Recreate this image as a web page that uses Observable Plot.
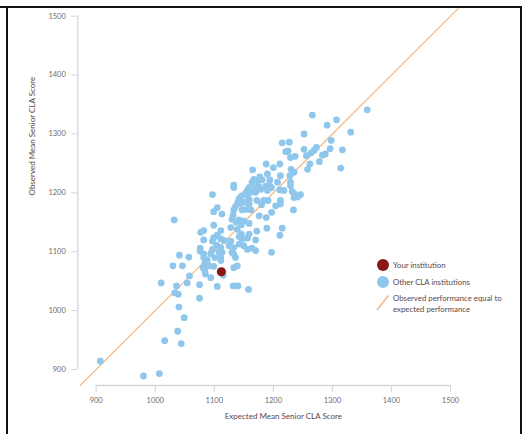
<!DOCTYPE html>
<html>
<head>
<meta charset="utf-8">
<script src="https://cdn.jsdelivr.net/npm/d3@7"></script>
<script src="https://cdn.jsdelivr.net/npm/@observablehq/plot@0.6"></script>
<style>
  html, body { margin: 0; padding: 0; background: #fff; }
  #wrap { position: relative; width: 526px; height: 434px; overflow: hidden; font-family: Lato, "Open Sans", sans-serif; }
  #wrap svg { position: absolute; left: 0; top: 0; }
  .bl { position: absolute; background: #111; }
</style>
</head>
<body>
<div id="wrap"></div>
<script>
// ---- data ----
const otherExpected = [
  1359,1266,1307,1291,1331,1252,1298,1215,1227,1252,1273,1269,1317,1296,1221,1225,1237,1229,1264,1288,
  1283,1256,1262,1278,1258,1314,1188,1211,1200,1165,1230,1235,1190,1212,1177,1167,1194,1181,1228,1229,
  1207,1229,1193,1197,1187,1211,1218,1232,1246,1241,1236,1235,1175,1159,1156,1170,1133,1133,1153,1146,
  1142,1145,1140,1159,1172,1162,1155,1147,1133,1132,1130,1137,1128,1139,1146,1159,1176,1180,1191,1212,
  1212,1204,1197,1188,1189,1215,1211,1234,1172,1170,1156,1146,1147,1142,1133,1133,1156,1170,1197,1128,
  1117,1125,1111,1113,1099,1105,1097,1099,1082,1077,1082,1099,1104,1111,1108,1097,1094,1076,1076,1113,
  1111,1111,1101,1082,1088,1084,1081,1085,1084,1099,1115,1139,1133,1132,1140,1158,1105,1075,1075,1058,
  1057,1046,1041,1030,1032,1054,1036,1010,1033,1039,1040,1049,1038,1016,1044,907,980,1007,
  1164,1173,1170,1179,1190,1156,1162,1150,1159,1184,1136,1142,1150,1105,1111,1097,1082,1130,1136,1142,
  1159,1164,1150,1091,1094
];
const otherObserved = [
  1341,1332,1324,1315,1303,1300,1289,1285,1286,1274,1277,1272,1273,1275,1270,1271,1262,1260,1268,1266,
  1264,1263,1249,1253,1240,1242,1249,1249,1243,1239,1240,1235,1232,1229,1227,1223,1222,1222,1229,1218,
  1218,1212,1214,1209,1211,1205,1204,1202,1197,1193,1198,1192,1211,1209,1204,1201,1213,1209,1199,1195,
  1190,1182,1184,1188,1187,1171,1172,1171,1171,1162,1155,1150,1141,1138,1146,1148,1161,1180,1187,1187,
  1181,1178,1167,1158,1140,1140,1128,1171,1135,1120,1123,1130,1121,1113,1107,1096,1104,1102,1099,1118,
  1119,1110,1136,1164,1168,1175,1197,1145,1120,1133,1136,1124,1111,1107,1099,1104,1097,1106,1101,1099,
  1090,1085,1090,1090,1086,1080,1073,1062,1068,1075,1060,1076,1073,1042,1042,1036,1041,1044,1021,1059,
  1091,1076,1094,1076,1154,1047,1042,1047,1030,1028,1006,988,965,949,944,914,889,893,
  1218,1221,1209,1206,1204,1195,1201,1184,1181,1187,1177,1154,1152,1128,1122,1118,1096,1099,1090,1126,
  1130,1106,1110,1076,1056
];
const yourExpected = [1112];
const yourObserved = [1066];
const diagonal = [873, 1513];
const xTicks = [900, 1000, 1100, 1200, 1300, 1400, 1500];
const yTicks = [900, 1000, 1100, 1200, 1300, 1400, 1500];
const xTitle = "Expected Mean Senior CLA Score";
const yTitle = "Observed Mean Senior CLA Score";
const legendLabels = ["Your institution", "Other CLA institutions", "Observed performance equal to", "expected performance"];

const others = otherExpected.map((x, i) => ({x, y: otherObserved[i]}));
const yours = yourExpected.map((x, i) => ({x, y: yourObserved[i]}));

const BLUE = "#8ec6ec", RED = "#8a1717", ORANGE = "#f2b27c", AXIS = "#d6d6d6";
const TICKTXT = "#6d6d6d", TITLE = "#5a4848";

const chart = Plot.plot({
  width: 526,
  height: 434,
  marginLeft: 95.7,
  marginRight: 76,
  marginTop: 15.7,
  marginBottom: 65,
  style: {fontFamily: "Lato, 'Open Sans', sans-serif", background: "transparent", overflow: "visible"},
  x: {domain: [900, 1500]},
  y: {domain: [900, 1500]},
  marks: [
    Plot.ruleX([900], {y1: 900, y2: 1500, dx: -18.4, stroke: AXIS, strokeWidth: 1.3}),
    Plot.ruleY([900], {x1: 900, x2: 1500, dy: 16, stroke: AXIS, strokeWidth: 1.3}),
    Plot.axisY({ticks: yTicks, tickSize: 6, tickPadding: 6, dx: -18.4, stroke: AXIS, fill: TICKTXT, fontSize: 7.5, label: null, tickFormat: d => String(d)}),
    Plot.axisX({ticks: xTicks, tickSize: 7, tickPadding: 5, dy: 16, stroke: AXIS, fill: TICKTXT, fontSize: 7.5, label: null, tickFormat: d => String(d)}),
    Plot.text([yTitle], {frameAnchor: "left", rotate: -90, dx: -64, dy: 2.6, fill: TITLE, fontSize: 8, text: d => d}),
    Plot.text([xTitle], {frameAnchor: "bottom", dx: 10, dy: 49, fill: TITLE, fontSize: 8, text: d => d}),
    Plot.line(diagonal, {x: d => d, y: d => d, stroke: ORANGE, strokeWidth: 1.1}),
    Plot.dot(others, {x: "x", y: "y", r: 3.4, fill: BLUE, stroke: null}),
    Plot.dot(yours, {x: "x", y: "y", r: 4.6, fill: RED, stroke: null})
  ]
});

const wrap = document.getElementById("wrap");
wrap.appendChild(chart);

// legend overlay
const leg = d3.select(wrap).append("svg").attr("width", 526).attr("height", 434)
  .style("font-family", "Lato, 'Open Sans', sans-serif").style("font-size", "7.8px");
leg.append("circle").attr("cx", 383).attr("cy", 265).attr("r", 6).attr("fill", RED);
leg.append("circle").attr("cx", 383).attr("cy", 282).attr("r", 6).attr("fill", BLUE);
leg.append("line").attr("x1", 377).attr("y1", 310).attr("x2", 388.5).attr("y2", 295.5)
  .attr("stroke", ORANGE).attr("stroke-width", 1.3);
const ty = [265, 282, 297.5, 308.5];
legendLabels.forEach((t, i) => {
  leg.append("text").attr("x", 393).attr("y", ty[i]).attr("dominant-baseline", "central")
    .attr("fill", TITLE).text(t);
});

// frame lines
[
  {l: 0, t: 6, w: 522, h: 2},
  {l: 6, t: 6, w: 2, h: 440},
  {l: 520, t: 6, w: 2, h: 440}
].forEach(b => {
  const d = document.createElement("div");
  d.className = "bl";
  Object.assign(d.style, {left: b.l + "px", top: b.t + "px", width: b.w + "px", height: b.h + "px"});
  wrap.appendChild(d);
});
</script>
</body>
</html>
